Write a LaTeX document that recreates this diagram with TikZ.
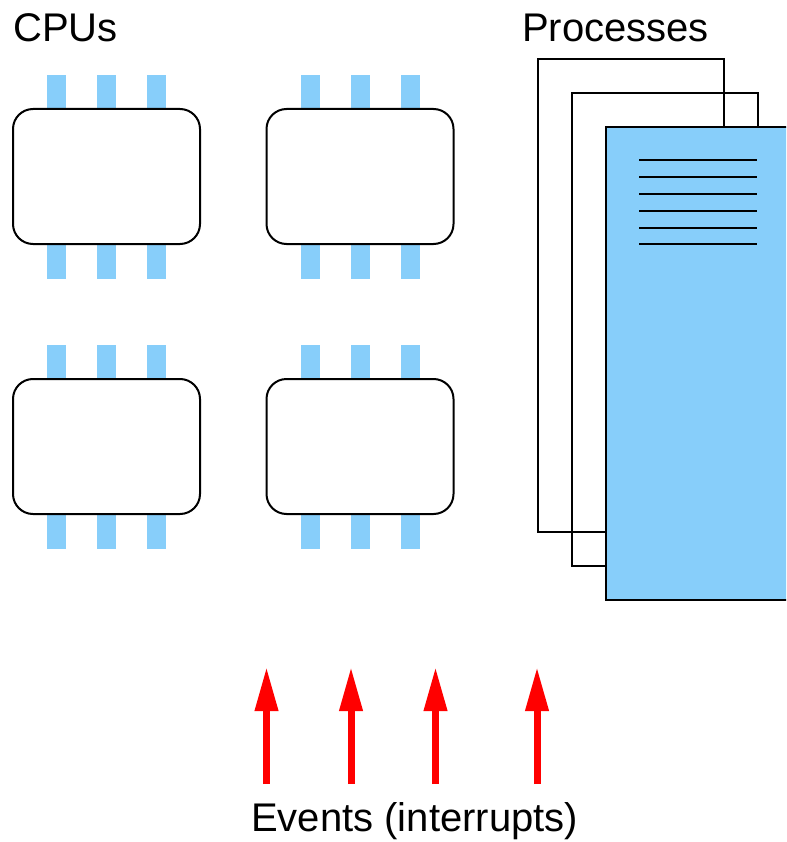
\documentclass[tikz,border=0pt]{standalone}
\usepackage{fontspec}
\setmainfont{Liberation Sans}
\usetikzlibrary{arrows.meta}
\definecolor{pinblue}{RGB}{135,206,250}
\definecolor{evred}{RGB}{255,0,0}
\tikzset{
  chip/.style={draw=black, line width=2pt, fill=white, rounded corners=20pt,
    minimum width=187pt, minimum height=135pt, inner sep=0pt},
  pin/.style={fill=pinblue, draw=none},
  page/.style={draw=black, line width=2pt},
  textline/.style={draw=black, line width=2pt},
  event/.style={evred, line width=7pt, -{Triangle[width=22pt,length=44pt]}},
  label/.style={anchor=base west, inner sep=0pt, font=\fontsize{40}{48}\selectfont},
}
\begin{document}
\begin{tikzpicture}[x=1pt,y=-1pt]
\useasboundingbox (0,0) rectangle (786,842);
\clip (0,0) rectangle (786,842);

% titles
\node[label] (cpus) at (13,42) {CPUs};
\node[label] (procs) at (522,42) {Processes};
\node[label] (events) at (251,831) {Events (interrupts)};

% pins, drawn under the chip bodies
\foreach \cx/\cy in {106.5/176.5, 360/176.5, 106.5/446.5, 360/446.5}{
  \foreach \dx in {-50, 0, 50}{
    \fill[pin] (\cx+\dx-9.5,\cy-101.5) rectangle (\cx+\dx+9.5,\cy-67.5);
    \fill[pin] (\cx+\dx-9.5,\cy+67.5) rectangle (\cx+\dx+9.5,\cy+102.5);
  }
}

% chip bodies
\node[chip] (cpu1) at (106.5,176.5) {};
\node[chip] (cpu2) at (360,176.5) {};
\node[chip] (cpu3) at (106.5,446.5) {};
\node[chip] (cpu4) at (360,446.5) {};

% stack of process pages, back to front
\node[page, minimum width=186pt, minimum height=473pt, inner sep=0pt, anchor=north west] (p3) at (537,58) {};
\node[page, minimum width=186pt, minimum height=473pt, inner sep=0pt, anchor=north west] (p2) at (571,92) {};
\node[page, fill=pinblue, minimum width=184pt, minimum height=473pt, inner sep=0pt, anchor=north west] (p1) at (605,126) {};

% text lines on the front page
\foreach \y in {160,177,194,211,227.5,244}{
  \draw[textline] (639,\y) -- (757,\y);
}

% event arrows
\foreach \i/\x in {1/266.5, 2/351, 3/435.5, 4/537}{
  \coordinate (e\i s) at (\x,784);
  \coordinate (e\i t) at (\x,667);
  \draw[event] (e\i s) -- (e\i t);
}
\end{tikzpicture}
\end{document}
